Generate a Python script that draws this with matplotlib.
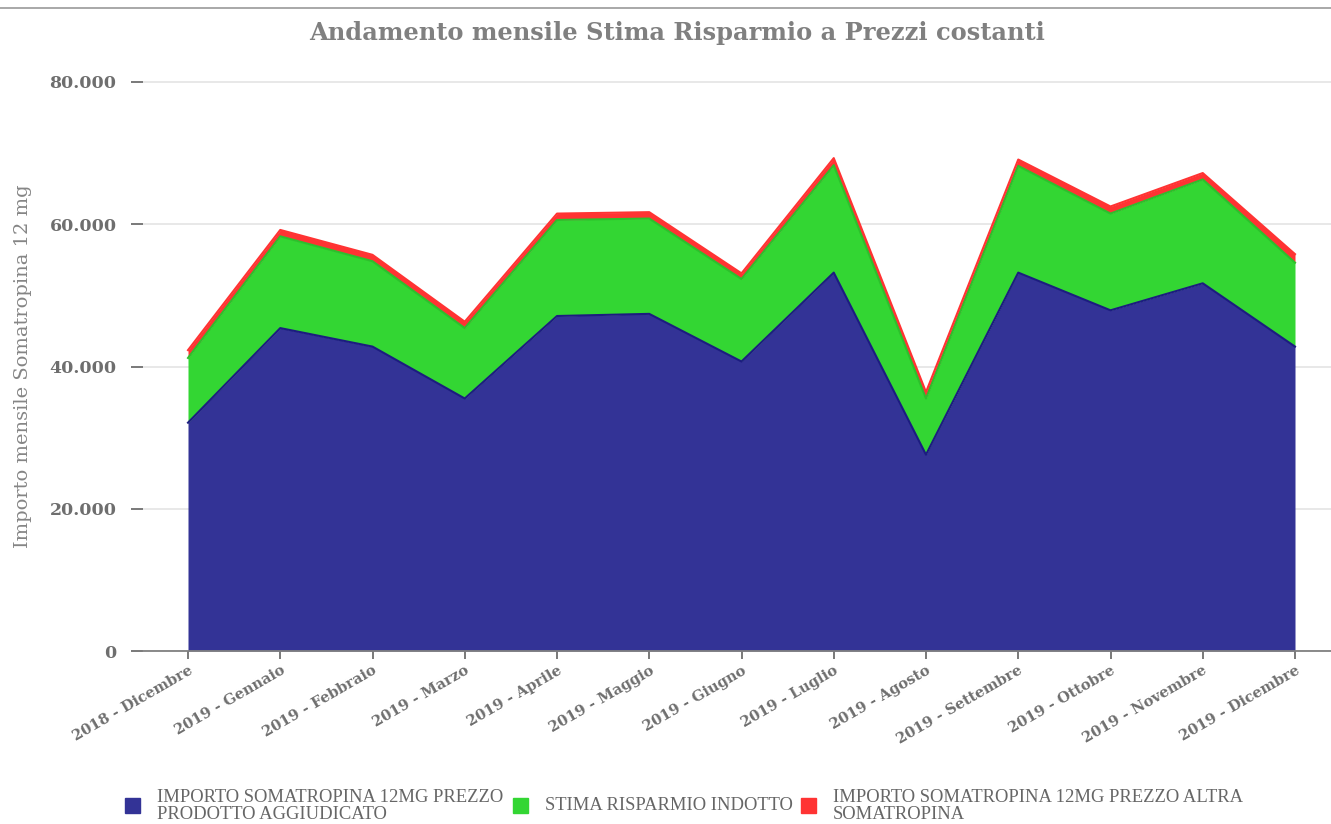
import matplotlib
matplotlib.use("Agg")
import matplotlib.pyplot as plt
import numpy as np
from matplotlib.lines import Line2D
from matplotlib.patches import Rectangle

# ----------------- Data -----------------
months = ["2018 - Dicembre", "2019 - Gennaio", "2019 - Febbraio", "2019 - Marzo",
          "2019 - Aprile", "2019 - Maggio", "2019 - Giugno", "2019 - Luglio",
          "2019 - Agosto", "2019 - Settembre", "2019 - Ottobre", "2019 - Novembre",
          "2019 - Dicembre"]
prezzo_aggiudicato = [32100, 45400, 42800, 35500, 47100, 47400, 40700, 53200,
                      27600, 53200, 47900, 51700, 42800]
risparmio = [9100, 12900, 12000, 9900, 13500, 13400, 11600, 15100,
             7900, 15000, 13600, 14600, 11800]
prezzo_altra = [1100, 900, 900, 900, 900, 900, 800, 1000,
                900, 900, 1000, 900, 1200]
yticks = [0, 20000, 40000, 60000, 80000]
ytick_labels = ["0", "20.000", "40.000", "60.000", "80.000"]
legend_labels = ["IMPORTO SOMATROPINA 12MG PREZZO\nPRODOTTO AGGIUDICATO",
                 "STIMA RISPARMIO INDOTTO",
                 "IMPORTO SOMATROPINA 12MG PREZZO ALTRA\nSOMATROPINA"]

BLUE, GREEN, RED = "#333396", "#33d633", "#ff3333"
GRAY = "#6e6e6e"

W, H = 1331, 824
fig = plt.figure(figsize=(W / 100, H / 100), dpi=100)
ax = fig.add_axes([143 / W, 1 - 651 / H, (W - 143) / W, (651 - 60) / H])

x = np.arange(len(months))
b = np.array(prezzo_aggiudicato)
g = b + np.array(risparmio)
r = g + np.array(prezzo_altra)

ax.fill_between(x, 0, b, color=BLUE, lw=0, zorder=2)
ax.fill_between(x, b, g, color=GREEN, lw=0, zorder=2)
ax.fill_between(x, g, r, color=RED, lw=0, zorder=2)
ax.plot(x, b, color="#1c1c80", lw=1.5, zorder=3)
ax.plot(x, g, color="#2cc02c", lw=1.5, zorder=3)
ax.plot(x, r, color=RED, lw=1.5, zorder=3)

ax.set_xlim(-45 / 92.25, 12 + 36 / 92.25)
ax.set_ylim(0, (651 - 60) / 7.1125 * 1000)

ax.set_yticks(yticks)
ax.set_yticklabels(ytick_labels, fontfamily="DejaVu Serif", fontweight="bold",
                   fontsize=12.5, color=GRAY)
ax.set_xticks(x)
ax.set_xticklabels(months, rotation=30, ha="right", rotation_mode="anchor",
                   fontfamily="DejaVu Serif", fontweight="bold", fontsize=10.5,
                   color=GRAY)
ax.tick_params(axis="y", length=9, width=1.3, color=GRAY, pad=10)
ax.tick_params(axis="x", length=6, width=1.3, color=GRAY, pad=3)
ax.grid(axis="y", color="#e6e6e6", lw=1.3, zorder=0)
ax.set_axisbelow(True)
for s in ["top", "right", "left"]:
    ax.spines[s].set_visible(False)
ax.spines["bottom"].set_color("#808080")
ax.spines["bottom"].set_linewidth(1.3)

ax.set_ylabel("Importo mensile Somatropina 12 mg", fontfamily="DejaVu Serif",
              fontsize=14, color="#858585")
ax.yaxis.set_label_coords(-(143 - 32) / (W - 143), (651 - 366) / (651 - 60))

fig.text(677 / W, 1 - 33 / H, "Andamento mensile Stima Risparmio a Prezzi costanti",
         ha="center", va="center", fontfamily="DejaVu Serif", fontweight="bold",
         fontsize=17.4, color="#808080")

# top rule
fig.add_artist(Line2D([0, 1], [1 - 8 / H, 1 - 8 / H], color="#999999", lw=1.2))

# ----------------- Legend -----------------
for col, lab, xs, xt in zip([BLUE, GREEN, RED], legend_labels,
                            [125, 513, 801], [157, 545, 833]):
    fig.add_artist(Rectangle((xs / W, 1 - 813 / H), 15 / W, 15 / H,
                             transform=fig.transFigure, color=col))
    fig.text(xt / W, 1 - 806 / H, lab, ha="left", va="center",
             fontfamily="Liberation Serif", fontsize=13.4, color="#666666",
             linespacing=1.02)

fig.savefig("out.png", dpi=100)
